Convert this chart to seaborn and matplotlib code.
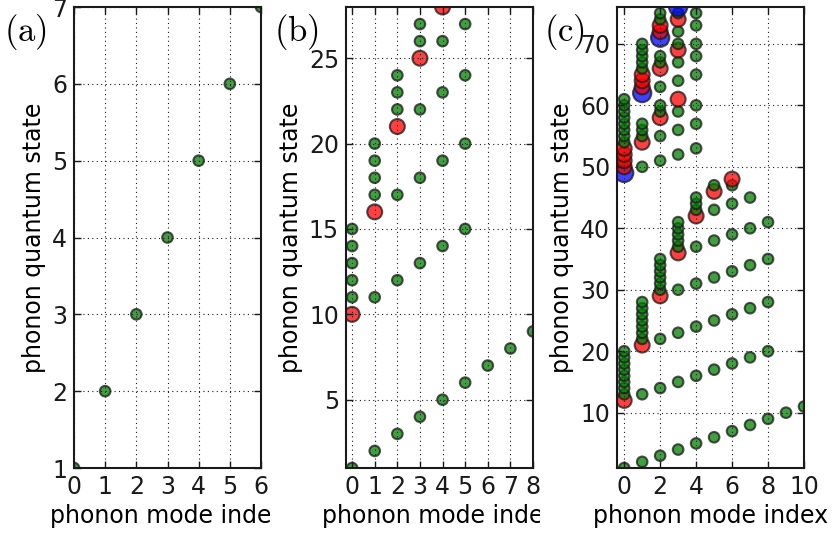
import matplotlib
matplotlib.use("Agg")
import matplotlib.pyplot as plt
import seaborn as sns
import pandas as pd
from matplotlib.transforms import Bbox, TransformedBbox

# ---- data: each phonon quantum state (numbered 1, 2, ... in list order) is the
# multiset of excited mode indices; a mode listed twice holds two quanta, etc.
states_a = [(0,), (1,), (2,), (3,), (4,), (5,), (6,)]

states_b = [(0,), (1,), (2,), (3,), (4,), (5,), (6,), (7,), (8,),
            (0, 0), (0, 1), (0, 2), (0, 3), (0, 4), (0, 5),
            (1, 1), (1, 2), (1, 3), (1, 4), (1, 5),
            (2, 2), (2, 3), (2, 4), (2, 5),
            (3, 3), (3, 4), (3, 5),
            (4, 4)]

states_c = [(0,), (1,), (2,), (3,), (4,), (5,), (6,), (7,), (8,), (9,), (10,),
            (0, 0), (0, 1), (0, 2), (0, 3), (0, 4), (0, 5), (0, 6), (0, 7), (0, 8),
            (1, 1), (1, 2), (1, 3), (1, 4), (1, 5), (1, 6), (1, 7), (1, 8),
            (2, 2), (2, 3), (2, 4), (2, 5), (2, 6), (2, 7), (2, 8),
            (3, 3), (3, 4), (3, 5), (3, 6), (3, 7), (3, 8),
            (4, 4), (4, 5), (4, 6), (4, 7),
            (5, 5), (5, 6),
            (6, 6),
            (0, 0, 0), (0, 0, 1), (0, 0, 2), (0, 0, 3), (0, 0, 4),
            (0, 1, 1), (0, 1, 2), (0, 1, 3), (0, 1, 4),
            (0, 2, 2), (0, 2, 3), (0, 2, 4), (0, 3, 3),
            (1, 1, 1), (1, 1, 2), (1, 1, 3), (1, 1, 4),
            (1, 2, 2), (1, 2, 3), (1, 2, 4), (1, 3, 3), (1, 3, 4),
            (2, 2, 2), (2, 2, 3), (2, 2, 4), (2, 3, 3), (2, 3, 4),
            (3, 3, 3)]

panel_labels = ["a", "b", "c"]
xlims = [(0, 6), (-0.27, 8), (-0.4, 10)]
ylims = [(1, 7), (1, 28), (1, 76)]
xticks = [list(range(0, 7)), list(range(0, 9)), list(range(0, 11, 2))]
yticks = [list(range(1, 8)), [5, 10, 15, 20, 25], list(range(10, 71, 10))]
xlabel_text = "phonon mode index"
ylabel_text = "phonon quantum state"

quanta_colors = {1: (0.0, 0.5, 0.0), 2: (1.0, 0.0, 0.0), 3: (0.0, 0.0, 1.0)}
quanta_sizes = {1: 58, 2: 116, 3: 174}


def to_frame(states):
    rows = []
    for s, modes in enumerate(states, start=1):
        for m in sorted(set(modes)):
            rows.append({"mode": m, "state": s, "quanta": modes.count(m)})
    return pd.DataFrame(rows)


sns.set_theme(style="white")
plt.rcParams.update({
    "font.family": ["DejaVu Sans"],
    "mathtext.fontset": "cm",
    "axes.edgecolor": "black",
    "axes.linewidth": 1.5,
    "text.color": "black",
    "axes.labelcolor": "black",
    "xtick.color": "black",
    "ytick.color": "black",
})

W, H = 836, 537
fig = plt.figure(figsize=(W / 100, H / 100), dpi=100)
fig.patch.set_facecolor("white")

lefts = [74, 346, 617]
axw = 187
top_px, bot_px = 7, 468
clip_x = [(0, 270), (273, 540), (543, W)]
label_x = [4, 274, 544]
FS = 17

for i, states in enumerate([states_a, states_b, states_c]):
    ax = fig.add_axes([lefts[i] / W, (H - bot_px) / H, axw / W, (bot_px - top_px) / H])
    df = to_frame(states)
    sns.scatterplot(data=df, x="mode", y="state", hue="quanta", size="quanta",
                    palette=quanta_colors, sizes=quanta_sizes, alpha=0.75,
                    edgecolor="k", linewidth=1.5, legend=False, ax=ax, zorder=2)
    ax.set_xlim(*xlims[i])
    ax.set_ylim(*ylims[i])
    ax.set_xticks(xticks[i])
    ax.set_yticks(yticks[i])
    ax.tick_params(direction="in", length=5, width=1, top=True, right=True,
                   bottom=True, left=True, labelsize=FS, pad=5, colors="k")
    ax.grid(True, color="k", linestyle=(0, (1, 3)), linewidth=0.8)
    ax.set_axisbelow(False)
    for sp in ax.spines.values():
        sp.set_visible(True)
        sp.set_linewidth(1.5)
        sp.set_color("k")
    ax.set_xlabel(xlabel_text, fontsize=FS, labelpad=4)
    ax.set_ylabel(ylabel_text, fontsize=FS, labelpad=4)
    x0, x1 = clip_x[i]
    cb = TransformedBbox(Bbox([[x0 / W, 0], [x1 / W, 1]]), fig.transFigure)
    ax.xaxis.label.set_clip_box(cb)
    ax.xaxis.label.set_clip_on(True)
    fig.text(label_x[i] / W, 1 - 12 / H, r"$(\mathrm{%s})$" % panel_labels[i],
             fontsize=25, ha="left", va="top")

fig.savefig("out.png", dpi=100, facecolor="white")
